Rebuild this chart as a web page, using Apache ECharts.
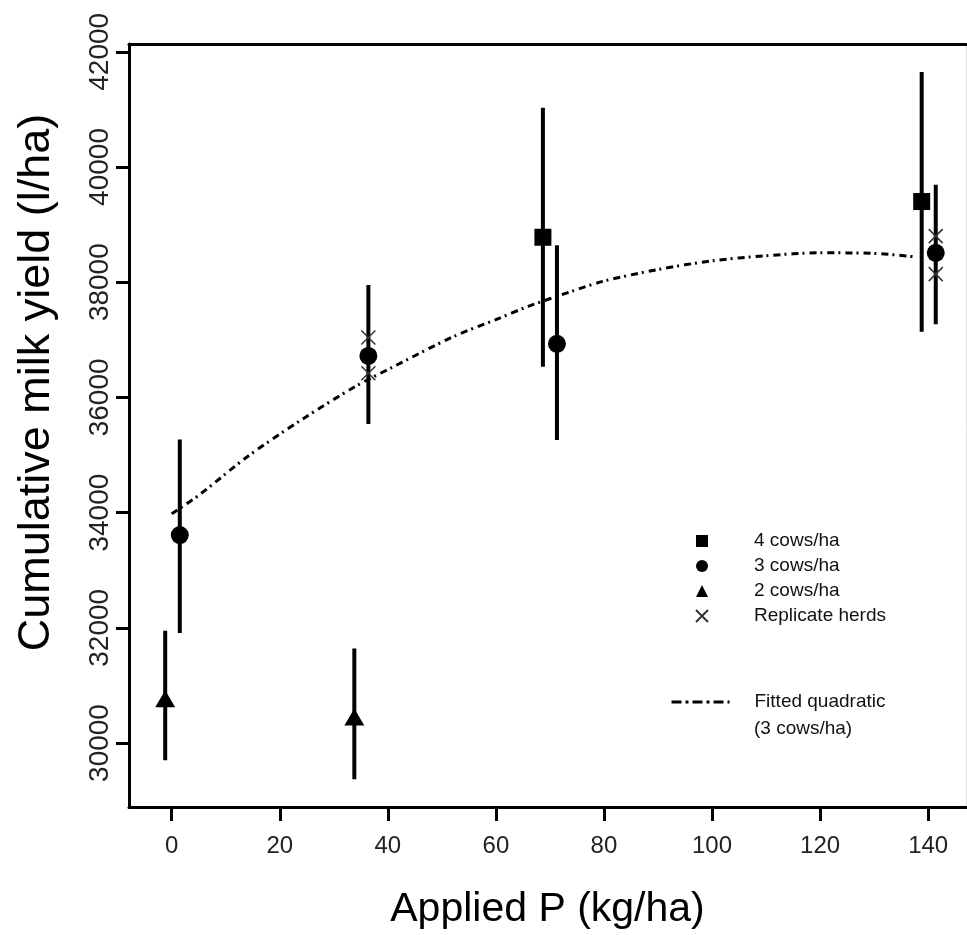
<!DOCTYPE html>
<html>
<head>
<meta charset="utf-8">
<script src="https://cdn.jsdelivr.net/npm/echarts@6/dist/echarts.min.js"></script>
<style>
html,body{margin:0;padding:0;background:#fff;}
#chart{width:967px;height:935px;}
</style>
</head>
<body>
<div id="chart"></div>
<script>
// ---- data ----
const xTicks = [0, 20, 40, 60, 80, 100, 120, 140];
const yTicks = [30000, 32000, 34000, 36000, 38000, 40000, 42000];

// 4 cows/ha (squares)
const cow4X  = [68.7, 138.8];
const cow4Y  = [38780, 39400];
const cow4Lo = [36530, 37140];
const cow4Hi = [41030, 41650];

// 3 cows/ha (circles)
const cow3X  = [1.5, 36.4, 71.3, 141.4];
const cow3Y  = [33610, 36720, 36930, 38510];
const cow3Lo = [31910, 35540, 35260, 37270];
const cow3Hi = [35270, 37950, 38640, 39690];

// 2 cows/ha (triangles)
const cow2X  = [-1.2, 33.8];
const cow2Y  = [30770, 30450];
const cow2Lo = [29700, 29370];
const cow2Hi = [31950, 31640];

// Replicate herds (crosses)
const repX = [36.4, 36.4, 141.4, 141.4];
const repY = [37040, 36420, 38800, 38140];

// Fitted quadratic (3 cows/ha)
const fitX = [0, 5, 14, 24, 34, 41, 52, 60, 66, 74, 80, 90, 100, 110, 120, 130, 137.5];
const fitY = [33980, 34300, 34970, 35610, 36190, 36530, 37050, 37350, 37580, 37840, 38020, 38220, 38370, 38460, 38510, 38500, 38440];

const zip2 = (a, b) => a.map((v, i) => [v, b[i]]);
const zip3 = (a, b, c) => a.map((v, i) => [v, b[i], c[i]]);

const errData = [].concat(zip3(cow4X, cow4Lo, cow4Hi), zip3(cow3X, cow3Lo, cow3Hi), zip3(cow2X, cow2Lo, cow2Hi));

const FONT = 'Liberation Sans, Arial, sans-serif';
const crossPath = 'path://M0,0L10,10M10,0L0,10';

const chart = echarts.init(document.getElementById('chart'), null, {renderer: 'canvas'});
chart.setOption({
  animation: false,
  backgroundColor: '#fff',
  textStyle: {fontFamily: FONT},
  grid: {left: 129, right: 1, top: 44, bottom: 128, containLabel: false},
  xAxis: [{
    type: 'value', min: -7.9, max: 147, position: 'bottom',
    name: 'Applied P (kg/ha)', nameLocation: 'middle', nameGap: 82,
    nameTextStyle: {fontSize: 41, color: '#000', fontFamily: FONT},
    axisLine: {show: true, onZero: false, lineStyle: {color: '#000', width: 3}},
    axisTick: {show: true, inside: false, length: 14, lineStyle: {color: '#000', width: 3}, customValues: xTicks},
    axisLabel: {fontSize: 24, color: '#222', margin: 27, fontFamily: FONT, customValues: xTicks},
    splitLine: {show: false}
  }, {
    type: 'value', min: -7.9, max: 147, position: 'top',
    axisLine: {show: true, onZero: false, lineStyle: {color: '#000', width: 3}},
    axisTick: {show: false}, axisLabel: {show: false}, splitLine: {show: false}
  }],
  yAxis: [{
    type: 'value', min: 28889, max: 42135, position: 'left',
    name: 'Cumulative milk yield (l/ha)', nameLocation: 'middle', nameGap: 70, nameRotate: 90,
    nameTextStyle: {fontSize: 45, color: '#000', fontFamily: FONT, padding: [0, 0, 0, 86]},
    axisLine: {show: true, onZero: false, lineStyle: {color: '#000', width: 3}},
    axisTick: {show: true, inside: false, length: 13, lineStyle: {color: '#000', width: 3}, customValues: yTicks},
    axisLabel: {fontSize: 28, color: '#222', margin: 15, rotate: 90, fontFamily: FONT, customValues: yTicks,
                formatter: function (v) { return String(v); }},
    splitLine: {show: false}
  }, {
    type: 'value', min: 28889, max: 42135, position: 'right',
    axisLine: {show: true, onZero: false, lineStyle: {color: '#ddd', width: 1}},
    axisTick: {show: false}, axisLabel: {show: false}, splitLine: {show: false}
  }],
  legend: [{
    orient: 'vertical', left: 695, top: 531, padding: 0, itemWidth: 12, itemHeight: 12, itemGap: 5,
    data: ['4 cows/ha', '3 cows/ha', '2 cows/ha', 'Replicate herds'],
    textStyle: {fontSize: 19, lineHeight: 20, color: '#111', fontFamily: FONT, padding: [0, 0, 0, 41]},
    selectedMode: false
  }, {
    orient: 'vertical', left: 670, top: 692, padding: 0, itemWidth: 58, itemHeight: 12,
    data: ['Fitted quadratic'],
    itemStyle: {color: 'rgba(0,0,0,0)', borderWidth: 0, opacity: 0},
    lineStyle: {color: '#000', width: 3, type: [10, 4, 3, 4]},
    textStyle: {fontSize: 19, lineHeight: 20, color: '#111', fontFamily: FONT, padding: [0, 0, 0, 20]},
    selectedMode: false
  }],
  graphic: [{
    type: 'text', left: 754, top: 719,
    style: {text: '(3 cows/ha)', fontSize: 19, fill: '#111', fontFamily: FONT}
  }],
  series: [{
    name: 'errorbars', type: 'custom', z: 2,
    data: errData,
    encode: {x: 0, y: [1, 2]},
    renderItem: function (params, api) {
      const p1 = api.coord([api.value(0), api.value(1)]);
      const p2 = api.coord([api.value(0), api.value(2)]);
      return {type: 'line', shape: {x1: p1[0], y1: p1[1], x2: p2[0], y2: p2[1]},
              style: {stroke: '#000', lineWidth: 4}};
    }
  }, {
    name: 'Fitted quadratic', type: 'line', z: 3, symbol: 'none', smooth: 0.3,
    data: zip2(fitX, fitY),
    lineStyle: {color: '#000', width: 3, type: [7, 4, 2, 5]},
    itemStyle: {color: '#000'}
  }, {
    name: '4 cows/ha', type: 'scatter', z: 4, symbol: 'rect', symbolSize: 17,
    data: zip2(cow4X, cow4Y), itemStyle: {color: '#000', opacity: 1}
  }, {
    name: '3 cows/ha', type: 'scatter', z: 4, symbol: 'circle', symbolSize: 18,
    data: zip2(cow3X, cow3Y), itemStyle: {color: '#000', opacity: 1}
  }, {
    name: '2 cows/ha', type: 'scatter', z: 4, symbol: 'triangle', symbolSize: [20, 17],
    data: zip2(cow2X, cow2Y), itemStyle: {color: '#000', opacity: 1}
  }, {
    name: 'Replicate herds', type: 'scatter', z: 5, symbol: crossPath, symbolSize: 14,
    data: zip2(repX, repY),
    itemStyle: {color: 'rgba(0,0,0,0)', borderColor: '#333', borderWidth: 1.5, opacity: 1}
  }]
});
</script>
</body>
</html>
